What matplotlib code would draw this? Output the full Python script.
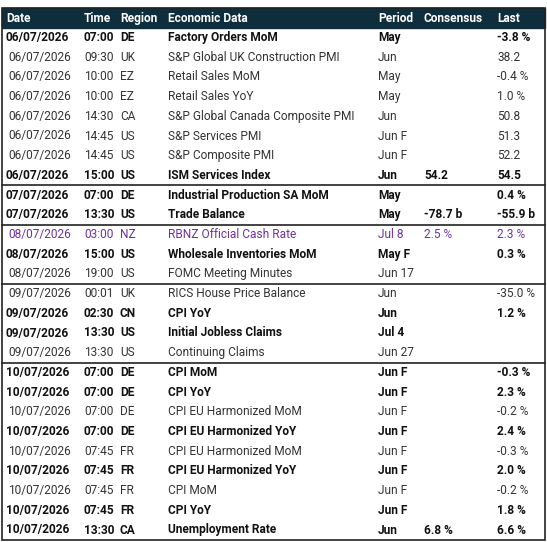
import matplotlib
matplotlib.use("Agg")
import matplotlib.pyplot as plt

W, H = 547, 542
headers = ["Date", "Time", "Region", "Economic Data", "Period", "Consensus", "Last"]
dates = ["06/07/2026"] * 8 + ["07/07/2026"] * 2 + ["08/07/2026"] * 3 + ["09/07/2026"] * 4 + ["10/07/2026"] * 9
times = ["07:00", "09:30", "10:00", "10:00", "14:30", "14:45", "14:45", "15:00",
         "07:00", "13:30", "03:00", "15:00", "19:00", "00:01", "02:30", "13:30", "13:30",
         "07:00", "07:00", "07:00", "07:00", "07:45", "07:45", "07:45", "07:45", "13:30"]
regions = ["DE", "UK", "EZ", "EZ", "CA", "US", "US", "US", "DE", "US", "NZ", "US", "US",
           "UK", "CN", "US", "US", "DE", "DE", "DE", "DE", "FR", "FR", "FR", "FR", "CA"]
events = ["Factory Orders MoM", "S&P Global UK Construction PMI", "Retail Sales MoM",
          "Retail Sales YoY", "S&P Global Canada Composite PMI", "S&P Services PMI",
          "S&P Composite PMI", "ISM Services Index", "Industrial Production SA MoM",
          "Trade Balance", "RBNZ Official Cash Rate", "Wholesale Inventories MoM",
          "FOMC Meeting Minutes", "RICS House Price Balance", "CPI YoY",
          "Initial Jobless Claims", "Continuing Claims", "CPI MoM", "CPI YoY",
          "CPI EU Harmonized MoM", "CPI EU Harmonized YoY", "CPI EU Harmonized MoM",
          "CPI EU Harmonized YoY", "CPI MoM", "CPI YoY", "Unemployment Rate"]
periods = ["May", "Jun", "May", "May", "Jun", "Jun F", "Jun F", "Jun", "May", "May",
           "Jul 8", "May F", "Jun 17", "Jun", "Jun", "Jul 4", "Jun 27", "Jun F", "Jun F",
           "Jun F", "Jun F", "Jun F", "Jun F", "Jun F", "Jun F", "Jun"]
consensus = ["", "", "", "", "", "", "", "54.2", "", "-78.7 b", "2.5 %", "", "", "", "",
             "", "", "", "", "", "", "", "", "", "", "6.8 %"]
last = ["-3.8 %", "38.2", "-0.4 %", "1.0 %", "50.8", "51.3", "52.2", "54.5", "0.4 %",
        "-55.9 b", "2.3 %", "0.3 %", "", "-35.0 %", "1.2 %", "", "", "-0.3 %", "2.3 %",
        "-0.2 %", "2.4 %", "-0.3 %", "2.0 %", "-0.2 %", "1.8 %", "6.6 %"]
bold = [1, 0, 0, 0, 0, 0, 0, 1, 1, 1, 0, 1, 0, 0, 1, 1, 0, 1, 1, 0, 1, 0, 1, 0, 1, 1]
highlight = [10]  # RBNZ row in purple

fig = plt.figure(figsize=(W / 100, H / 100), dpi=100)
ax = fig.add_axes([0, 0, 1, 1])
ax.set_xlim(0, W)
ax.set_ylim(H, 0)
ax.axis("off")

font = ["Roboto", "DejaVu Sans"]
col_x = [6, 84, 120, 168, 378, 424, 497]
fs = 8.6

# header band
ax.add_patch(plt.Rectangle((2, 8), W - 4, 20, color="#0e2d3d", zorder=0))
for x, h in zip(col_x, headers):
    ax.text(x, 18.5, h, color="white", fontsize=fs, fontweight="bold", family=font, va="center")

y0, dy = 37.5, 19.7
for i in range(len(events)):
    y = y0 + i * dy
    b = bold[i]
    color = "#7030a0" if i in highlight else ("#111111" if b else "#333333")
    vals = [dates[i], times[i], regions[i], events[i], periods[i], consensus[i], last[i]]
    for j, (x, v) in enumerate(zip(col_x, vals)):
        xx = x + (2 if (j == 0 and not b) else 0)
        ax.text(xx, y, v, color=color, fontsize=fs, fontweight="bold" if b else "normal",
                family=font, va="center")

# group separators and outer border
for k in [8, 10, 13, 17]:
    yy = y0 + (k - 0.5) * dy
    ax.plot([2, W - 2], [yy, yy], color="#222222", lw=1.2)
ax.add_patch(plt.Rectangle((2, 8), W - 4, y0 + 25.5 * dy - 8, fill=False, ec="#222222", lw=1.2))

fig.savefig("out.png", dpi=100)
